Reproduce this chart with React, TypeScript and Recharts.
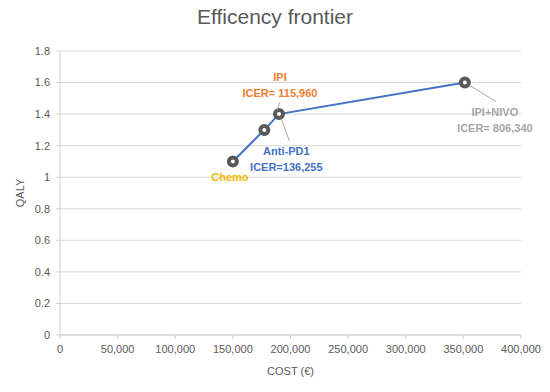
import React from "react"
import { LineChart, Line, XAxis, YAxis, CartesianGrid, LabelList } from "recharts"

const treatments = ["Chemo", "Anti-PD1", "IPI", "IPI+NIVO"]
const costs = [150000, 177300, 190000, 351300]
const qalys = [1.1, 1.3, 1.4, 1.6]
const icers = ["", "ICER=136,255", "ICER= 115,960", "ICER= 806,340"]
const xTicks = [0, 50000, 100000, 150000, 200000, 250000, 300000, 350000, 400000]
const yTicks = [0, 0.2, 0.4, 0.6, 0.8, 1, 1.2, 1.4, 1.6, 1.8]

const data = treatments.map((name, i) => ({ name, cost: costs[i], qaly: qalys[i], icer: icers[i] }))

// label placement relative to each point (Excel-style dragged labels)
const labelColors = ["#F2B800", "#4472C4", "#ED7D31", "#A5A5A5"]
const labelOffsets = [
  { dx: -3, dy: 16 },
  { dx: 22, dy: 21 },
  { dx: 1, dy: -37 },
  { dx: 30, dy: 29 },
]
const leaders: (number[] | null)[] = [
  null,
  [17, -11, 25, 11],
  [1, -12, -2, -4],
  [5, 3, 31, 19],
]

const fmt = (v: number) => v.toLocaleString("en-US")
const font = "'Liberation Sans', Arial, sans-serif"
const grey = "#595959"

function Dot(props: any) {
  const { cx, cy, index } = props
  return <circle key={index} cx={cx} cy={cy} r={4} fill="#fff" stroke={grey} strokeWidth={4} />
}

function PointLabel(props: any) {
  const { x, y, index } = props
  const d = data[index]
  const o = labelOffsets[index]
  const l = leaders[index]
  const color = labelColors[index]
  return (
    <g>
      {l && <line x1={x + l[0]} y1={y + l[1]} x2={x + l[2]} y2={y + l[3]} stroke="#a6a6a6" strokeWidth={1} />}
      <text x={x + o.dx} y={y + o.dy} textAnchor="middle" dominantBaseline="central" fill={color}
        fontSize={11} fontWeight="bold" fontFamily={font}>{d.name}</text>
      {d.icer && (
        <text x={x + o.dx} y={y + o.dy + 16} textAnchor="middle" dominantBaseline="central" fill={color}
          fontSize={11} fontWeight="bold" fontFamily={font}>{d.icer}</text>
      )}
    </g>
  )
}

export default function App() {
  return (
    <div style={{ position: "relative", width: 550, height: 392, background: "#fff", fontFamily: font }}>
      <style>{"body{margin:0}"}</style>
      <div style={{ position: "absolute", top: 5, left: 0, width: 550, textAlign: "center", fontSize: 21, color: grey }}>
        Efficency frontier
      </div>
      <LineChart width={550} height={392} data={data} margin={{ top: 51, right: 29, bottom: 17, left: 10 }}>
        <CartesianGrid vertical={false} stroke="#d9d9d9" />
        <XAxis type="number" dataKey="cost" domain={[0, 400000]} ticks={xTicks} tickFormatter={fmt}
          stroke="#d0d0d0" tickSize={4} tickMargin={6} height={40}
          tick={{ fill: grey, fontSize: 11, fontFamily: font }}
          label={{ value: "COST (€)", position: "insideBottom", offset: 0, fill: grey, fontSize: 11, fontFamily: font }} />
        <YAxis type="number" domain={[0, 1.8]} ticks={yTicks} width={50}
          stroke="#d0d0d0" tickSize={4} tickMargin={6}
          tick={{ fill: grey, fontSize: 11, fontFamily: font }}
          label={{
            content: (p: any) => {
              const vb = p.viewBox
              const cy = vb.y + vb.height / 2
              return (
                <text x={20} y={cy} transform={`rotate(-90, 20, ${cy})`} textAnchor="middle" dominantBaseline="central"
                  fill={grey} fontSize={11} fontFamily={font}>QALY</text>
              )
            },
          }} />
        <Line type="linear" dataKey="qaly" stroke="#4472C4" strokeWidth={2} dot={<Dot />} activeDot={false}
          isAnimationActive={false}>
          <LabelList dataKey="name" content={<PointLabel />} />
        </Line>
      </LineChart>
    </div>
  )
}
